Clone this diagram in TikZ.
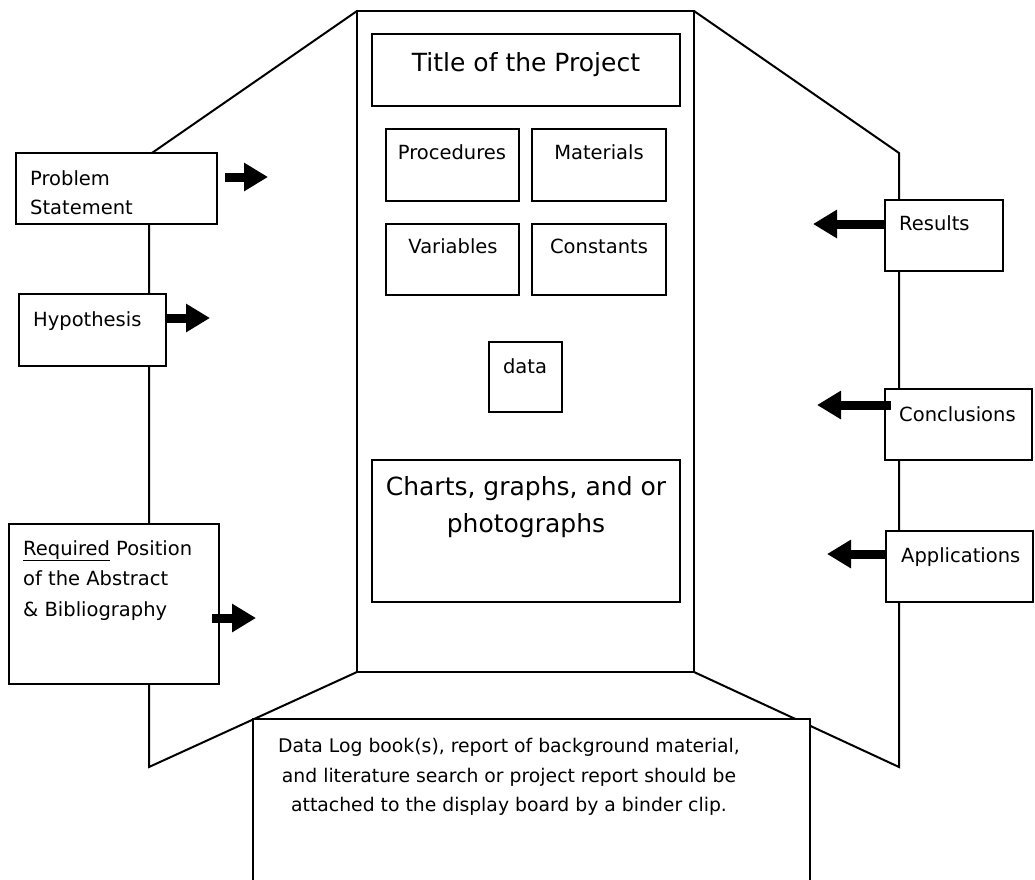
\documentclass[tikz,border=0pt]{standalone}
\usepackage{fontspec}
\setmainfont{DejaVu Sans}
\usetikzlibrary{arrows.meta}
\newcommand\mybox[5]{\node[box, minimum width={(#4)-(#2)}, minimum height={(#5)-(#3)}] (#1) at ({((#2)+(#4))/2},{((#3)+(#5))/2}) {};}
\begin{document}
\begin{tikzpicture}[x=1pt,y=-1pt,
  line/.style={line width=2pt, line join=miter},
  box/.style={draw, line width=2pt, fill=white, inner sep=0pt, outer sep=0pt},
  fat/.style={line width=9pt, -{Triangle[length=24pt,width=27pt]}},
  txt/.style={inner sep=0pt, font=\fontsize{19.5}{23}\selectfont},
  big/.style={inner sep=0pt, font=\fontsize{25}{30}\selectfont},
  low/.style={inner sep=0pt, font=\fontsize{18.8}{23}\selectfont}]
\useasboundingbox (0,0) rectangle (1035,879);
\clip (0,0) rectangle (1035,879);
% centre board
\mybox{bd}{357}{11}{694}{672}
% side panels
\coordinate (lt) at (149,155);
\coordinate (lb) at (149,767);
\coordinate (rt) at (899,153);
\coordinate (rb) at (899,767);
\draw[line] (bd.north west) -- (lt) -- (lb) -- (bd.south west);
\draw[line] (bd.north east) -- (rt) -- (rb) -- (bd.south east);
% boxes
\mybox{ps}{16}{153}{217}{224}
\mybox{hy}{19}{294}{166}{366}
\mybox{ra}{9}{524}{219}{684}
\mybox{rs}{885}{200}{1003}{271}
\mybox{cn}{885}{389}{1032}{460}
\mybox{ap}{886}{531}{1033}{602}
\mybox{ti}{372}{34}{680}{106}
\mybox{pr}{386}{129}{519}{201}
\mybox{ma}{532}{129}{666}{201}
\mybox{va}{386}{224}{519}{295}
\mybox{co}{532}{224}{666}{295}
\mybox{da}{489}{342}{562}{412}
\mybox{ch}{372}{460}{680}{602}
\mybox{dl}{253}{719}{810}{900}
% texts
\node[big, anchor=base] at (526,71) {Title of the Project};
\node[txt, anchor=base] at (452,159) {Procedures};
\node[txt, anchor=base] at (599,159) {Materials};
\node[txt, anchor=base] at (453,253) {Variables};
\node[txt, anchor=base] at (599,253) {Constants};
\node[txt, anchor=base] at (525,373) {data};
\node[big, anchor=base] at (526,495) {Charts, graphs, and or};
\node[big, anchor=base] at (526,532) {photographs};
\node[txt, anchor=base west] at (30,185) {Problem};
\node[txt, anchor=base west] at (30,214) {Statement};
\node[txt, anchor=base west] at (33,326) {Hypothesis};
\node[txt, anchor=base west] at (23,555) {\underline{Required} Position};
\node[txt, anchor=base west] at (23,585) {of the Abstract};
\node[txt, anchor=base west] at (23,616) {\& Bibliography};
\node[txt, anchor=base west] at (899,230) {Results};
\node[txt, anchor=base west] at (899,421) {Conclusions};
\node[txt, anchor=base west] at (901,562) {Applications};
\node[low, anchor=base] at (509,752) {Data Log book(s), report of background material,};
\node[low, anchor=base] at (509,782) {and literature search or project report should be};
\node[low, anchor=base] at (509,811) {attached to the display board by a binder clip.};
% arrows
\coordinate (psa) at (268,177);
\coordinate (hya) at (210,318);
\coordinate (raa) at (256,618);
\coordinate (rsa) at (813,224);
\coordinate (cna) at (817,405);
\coordinate (apa) at (827,554);
\draw[fat] ([xshift=8pt]ps.east |- psa) -- (psa);
\draw[fat] (hy.east |- hya) -- (hya);
\draw[fat] ([xshift=-7pt]ra.east |- raa) -- (raa);
\draw[fat] (rs.west |- rsa) -- (rsa);
\draw[fat] ([xshift=6pt]cn.west |- cna) -- (cna);
\draw[fat] (ap.west |- apa) -- (apa);
\end{tikzpicture}
\end{document}
